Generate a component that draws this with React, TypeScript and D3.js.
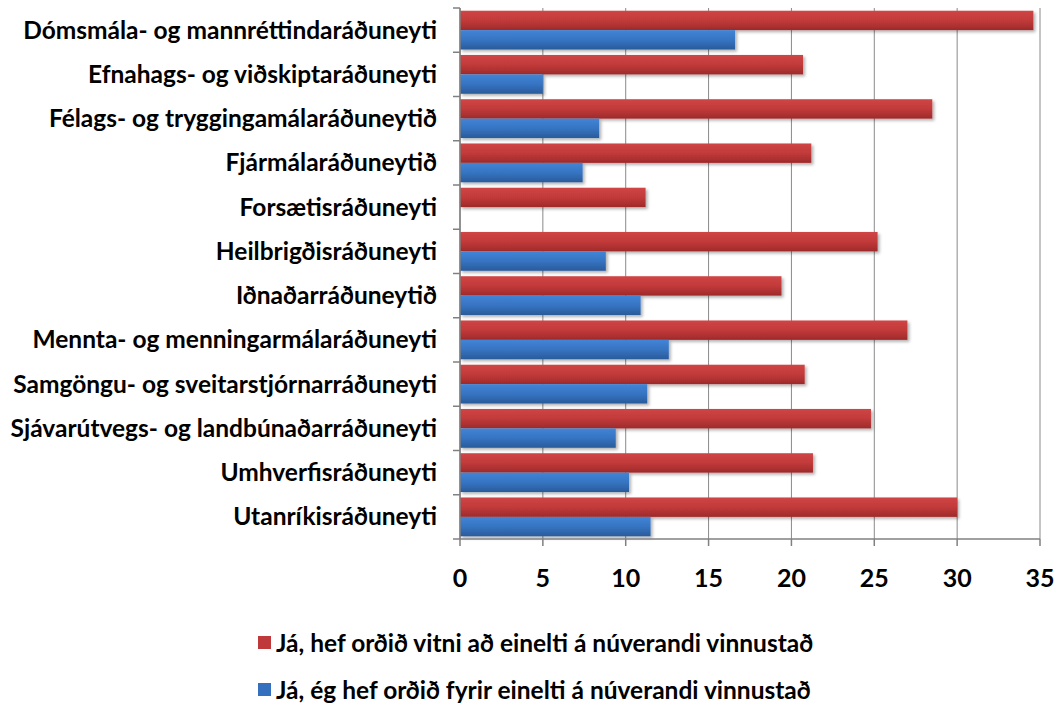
import React from "react";
import * as d3 from "d3";

const categories = [
  "Dómsmála- og mannréttindaráðuneyti",
  "Efnahags- og viðskiptaráðuneyti",
  "Félags- og tryggingamálaráðuneytið",
  "Fjármálaráðuneytið",
  "Forsætisráðuneyti",
  "Heilbrigðisráðuneyti",
  "Iðnaðarráðuneytið",
  "Mennta- og menningarmálaráðuneyti",
  "Samgöngu- og sveitarstjórnarráðuneyti",
  "Sjávarútvegs- og landbúnaðarráðuneyti",
  "Umhverfisráðuneyti",
  "Utanríkisráðuneyti",
];
const seriesNames = [
  "Já, hef orðið vitni að einelti á núverandi vinnustað",
  "Já, ég hef orðið fyrir einelti á núverandi vinnustað",
];
const witnessValues = [34.6, 20.7, 28.5, 21.2, 11.2, 25.2, 19.4, 27.0, 20.8, 24.8, 21.3, 30.0];
const victimValues = [16.6, 5.0, 8.4, 7.4, 0, 8.8, 10.9, 12.6, 11.3, 9.4, 10.2, 11.5];
const xTicks = [0, 5, 10, 15, 20, 25, 30, 35];

const FONT = "Lato, 'Open Sans', sans-serif";

export default function App() {
  const W = 1055, H = 706;
  const left = 460, right = 1040, top = 8, bottom = 539;
  const x = d3.scaleLinear().domain([0, 35]).range([left, right]);
  const y = d3.scaleBand<string>().domain(categories).range([top, bottom]).padding(0);
  const sub = d3.scaleBand<string>().domain(["a", "b"]).range([0, y.step()]).paddingInner(0).paddingOuter(0.14);
  const seriesVals = [witnessValues, victimValues];
  const grads = ["gRed", "gBlue"];
  const legendColors = ["#c0393a", "#3570bf"];

  return (
    <svg width={W} height={H} style={{ display: "block", position: "absolute", left: 0, top: 0, background: "#fff" }}>
      <defs>
        <linearGradient id="gRed" x1="0" y1="0" x2="0" y2="1">
          <stop offset="0" stopColor="#d04545" />
          <stop offset="0.5" stopColor="#c23a3a" />
          <stop offset="1" stopColor="#9e2a2a" />
        </linearGradient>
        <linearGradient id="gBlue" x1="0" y1="0" x2="0" y2="1">
          <stop offset="0" stopColor="#4284d6" />
          <stop offset="0.5" stopColor="#3674c2" />
          <stop offset="1" stopColor="#2a5b9a" />
        </linearGradient>
        <filter id="shadow" x="-5%" y="-30%" width="115%" height="180%">
          <feDropShadow dx="2" dy="2" stdDeviation="1.5" floodColor="#000" floodOpacity="0.3" />
        </filter>
      </defs>
      <rect x={0} y={0} width={W} height={H} fill="#fff" />
      {xTicks.map((t) => (
        <line key={"g" + t} x1={x(t)} x2={x(t)} y1={top} y2={bottom} stroke="#8a8a8a" strokeWidth={1} />
      ))}
      {categories.map((c, i) => (
        <g key={c} transform={`translate(0,${y(c)})`}>
          {seriesVals.map((vals, s) =>
            vals[i] > 0 ? (
              <rect
                key={s}
                x={x(0)}
                y={sub(s === 0 ? "a" : "b")}
                width={x(vals[i]) - x(0)}
                height={sub.bandwidth()}
                fill={`url(#${grads[s]})`}
                filter="url(#shadow)"
              />
            ) : null
          )}
        </g>
      ))}
      <line x1={left} x2={left} y1={top} y2={bottom} stroke="#808080" strokeWidth={1.5} />
      <line x1={left} x2={right} y1={bottom} y2={bottom} stroke="#808080" strokeWidth={1.5} />
      {categories.map((c, i) => (
        <line key={"yt" + i} x1={left - 7} x2={left} y1={y(c)! + y.step()} y2={y(c)! + y.step()} stroke="#808080" strokeWidth={1.5} />
      ))}
      <line x1={left - 7} x2={left} y1={top} y2={top} stroke="#808080" strokeWidth={1.5} />
      {xTicks.map((t) => (
        <line key={"xt" + t} x1={x(t)} x2={x(t)} y1={bottom} y2={bottom + 7} stroke="#808080" strokeWidth={1.5} />
      ))}
      {xTicks.map((t) => (
        <text key={"xl" + t} x={x(t)} y={578} dy="0.36em" textAnchor="middle" fontFamily={FONT} fontWeight={700} fontSize={25} fill="#000">
          {t}
        </text>
      ))}
      {categories.map((c) => (
        <text key={"cl" + c} x={437} y={y(c)! + y.step() / 2} dy="0.35em" textAnchor="end" fontFamily={FONT} fontWeight={700} fontSize={24.5} fill="#000">
          {c}
        </text>
      ))}
      {seriesNames.map((n, i) => (
        <g key={n} transform={`translate(258,${643 + i * 47})`}>
          <rect x={0} y={-7} width={13} height={13} fill={legendColors[i]} />
          <text x={18} y={0} dy="0.35em" fontFamily={FONT} fontWeight={700} fontSize={24.5} fill="#000">
            {n}
          </text>
        </g>
      ))}
    </svg>
  );
}
